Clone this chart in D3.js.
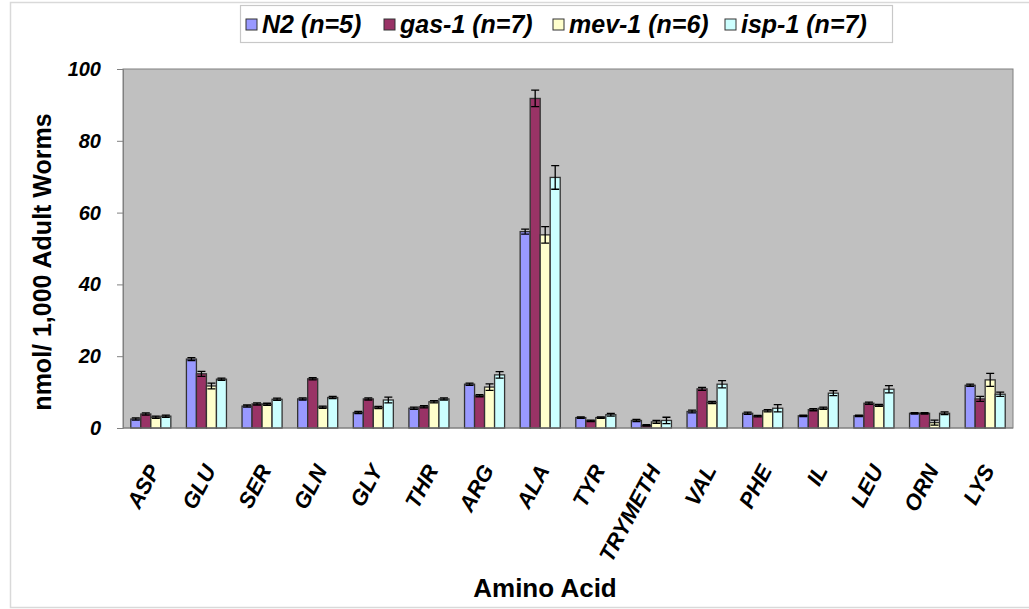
<!DOCTYPE html>
<html>
<head>
<meta charset="utf-8">
<script src="https://cdn.jsdelivr.net/npm/d3@7"></script>
<style>
  body { margin: 0; background: #fff; }
  text { font-family: "Liberation Sans", Arial, sans-serif; }
</style>
</head>
<body>
<div id="chart"></div>
<script>
// data
var categories = ["ASP", "GLU", "SER", "GLN", "GLY", "THR", "ARG", "ALA", "TYR", "TRYMETH", "VAL", "PHE", "IL", "LEU", "ORN", "LYS"];
var seriesNames = ["N2 (n=5)", "gas-1 (n=7)", "mev-1 (n=6)", "isp-1 (n=7)"];
var seriesColors = ["#9999ff", "#993366", "#ffffcc", "#ccffff"];
var n2 = [2.5, 19.2, 6.1, 8.1, 4.3, 5.5, 12.2, 54.7, 2.9, 2.1, 4.6, 4.1, 3.4, 3.4, 4.1, 11.9];
var gas1 = [3.9, 15.1, 6.7, 13.7, 8.1, 5.9, 9.0, 91.8, 2.0, 0.7, 10.9, 3.3, 5.1, 6.9, 4.1, 8.1];
var mev1 = [3.0, 11.7, 6.6, 5.8, 5.7, 7.3, 11.4, 53.8, 2.9, 1.7, 7.1, 4.8, 5.5, 6.3, 1.5, 13.4];
var isp1 = [3.3, 13.6, 8.0, 8.5, 7.8, 8.1, 14.8, 69.8, 3.7, 2.1, 12.2, 5.5, 9.7, 10.8, 4.1, 9.4];
var n2Err = [0.3, 0.4, 0.3, 0.3, 0.3, 0.3, 0.3, 0.7, 0.2, 0.3, 0.4, 0.3, 0.2, 0.2, 0.2, 0.3];
var gas1Err = [0.3, 0.7, 0.3, 0.3, 0.3, 0.3, 0.3, 2.3, 0.2, 0.2, 0.4, 0.2, 0.3, 0.3, 0.2, 0.7];
var mev1Err = [0.3, 0.8, 0.3, 0.3, 0.3, 0.3, 0.9, 2.3, 0.2, 0.4, 0.3, 0.3, 0.3, 0.3, 0.7, 1.8];
var isp1Err = [0.3, 0.3, 0.3, 0.3, 0.8, 0.3, 0.9, 3.3, 0.4, 0.9, 1.0, 1.0, 0.7, 1.0, 0.4, 0.6];
var yTicks = [0, 20, 40, 60, 80, 100];

var values = [n2, gas1, mev1, isp1];
var errors = [n2Err, gas1Err, mev1Err, isp1Err];

var W = 1029, H = 609;
var margin = {top: 69, right: 16, bottom: 181, left: 123},
    width = W - margin.left - margin.right,
    height = H - margin.top - margin.bottom;

var svg = d3.select("#chart")
  .append("svg")
    .attr("width", W)
    .attr("height", H);

// outer frame (only left, top, bottom visible)
svg.append("path")
    .attr("d", "M1040,2.5H10.5V607.5H1040")
    .attr("fill", "none")
    .attr("stroke", "#d9d9d9")
    .attr("stroke-width", 1.5);

var g = svg.append("g")
    .attr("transform", "translate(" + margin.left + "," + margin.top + ")");

var x = d3.scaleBand()
    .domain(categories)
    .range([0, width])
    .paddingInner(0.28)
    .paddingOuter(0.14);

var xs = d3.scaleBand()
    .domain(seriesNames)
    .range([0, x.bandwidth()]);

var y = d3.scaleLinear()
    .domain([0, 100])
    .range([height, 0]);

// plot background
g.append("rect")
    .attr("width", width)
    .attr("height", height)
    .attr("fill", "#c0c0c0")
    .attr("stroke", "#808080")
    .attr("stroke-width", 1);

// y axis
var yAxis = g.append("g")
    .call(d3.axisLeft(y).tickValues(yTicks).tickSize(6).tickPadding(16));
yAxis.select(".domain").attr("stroke", "#808080");
yAxis.selectAll(".tick line").attr("stroke", "#808080");
yAxis.selectAll(".tick text")
    .attr("font-size", 20)
    .attr("font-weight", "bold")
    .attr("font-style", "italic")
    .attr("fill", "#000");

// bars
var flat = [];
categories.forEach(function(c, i) {
  seriesNames.forEach(function(s, j) {
    flat.push({cat: c, s: s, j: j, v: values[j][i], e: errors[j][i]});
  });
});

var groups = g.selectAll(".bar")
  .data(flat)
  .enter()
  .append("g")
    .attr("class", "bar")
    .attr("transform", function(d) { return "translate(" + (x(d.cat) + xs(d.s)) + ",0)"; });

groups.append("rect")
    .attr("x", 0)
    .attr("y", function(d) { return y(d.v); })
    .attr("width", xs.bandwidth())
    .attr("height", function(d) { return y(0) - y(d.v); })
    .attr("fill", function(d) { return seriesColors[d.j]; })
    .attr("stroke", "#333")
    .attr("stroke-width", 1.3);

// error bars
var cap = 4;
groups.append("path")
    .attr("d", function(d) {
      var cx = xs.bandwidth() / 2,
          t = y(d.v + d.e), b = y(d.v - d.e);
      return "M" + (cx - cap) + "," + t + "H" + (cx + cap) +
             "M" + cx + "," + t + "V" + b +
             "M" + (cx - cap) + "," + b + "H" + (cx + cap);
    })
    .attr("fill", "none")
    .attr("stroke", "#000")
    .attr("stroke-width", 1.3);

// x axis line
g.append("line")
    .attr("x1", 0).attr("x2", width)
    .attr("y1", height).attr("y2", height)
    .attr("stroke", "#808080");

// x labels, rotated
g.selectAll(".xlab")
  .data(categories)
  .enter()
  .append("text")
    .attr("class", "xlab")
    .attr("transform", function(d) {
      return "translate(" + (x(d) + x.bandwidth() / 2 + 10) + "," + (height + 42) + ") rotate(-62)";
    })
    .attr("text-anchor", "end")
    .attr("font-size", 22)
    .attr("font-weight", "bold")
    .attr("font-style", "italic")
    .text(function(d) { return d; });

// axis titles
svg.append("text")
    .attr("x", 545)
    .attr("y", 597)
    .attr("text-anchor", "middle")
    .attr("font-size", 26)
    .attr("font-weight", "bold")
    .text("Amino Acid");

svg.append("text")
    .attr("transform", "translate(51,262) rotate(-90)")
    .attr("text-anchor", "middle")
    .attr("font-size", 25)
    .attr("font-weight", "bold")
    .text("nmol/ 1,000 Adult Worms");

// legend
var legend = svg.append("g");
legend.append("rect")
    .attr("x", 240.5).attr("y", 5.5)
    .attr("width", 652).attr("height", 37)
    .attr("fill", "#fff")
    .attr("stroke", "#c8c8c8")
    .attr("stroke-width", 1.2);

var legendX = [246, 384, 553, 725];
var items = legend.selectAll(".leg")
  .data(seriesNames)
  .enter()
  .append("g")
    .attr("class", "leg")
    .attr("transform", function(d, i) { return "translate(" + legendX[i] + ",19)"; });

items.append("rect")
    .attr("width", 11).attr("height", 11)
    .attr("fill", function(d, i) { return seriesColors[i]; })
    .attr("stroke", "#333")
    .attr("stroke-width", 1);

items.append("text")
    .attr("x", 16)
    .attr("y", 14)
    .attr("font-size", 25)
    .attr("font-weight", "bold")
    .attr("font-style", "italic")
    .text(function(d) { return d; });
</script>
</body>
</html>
